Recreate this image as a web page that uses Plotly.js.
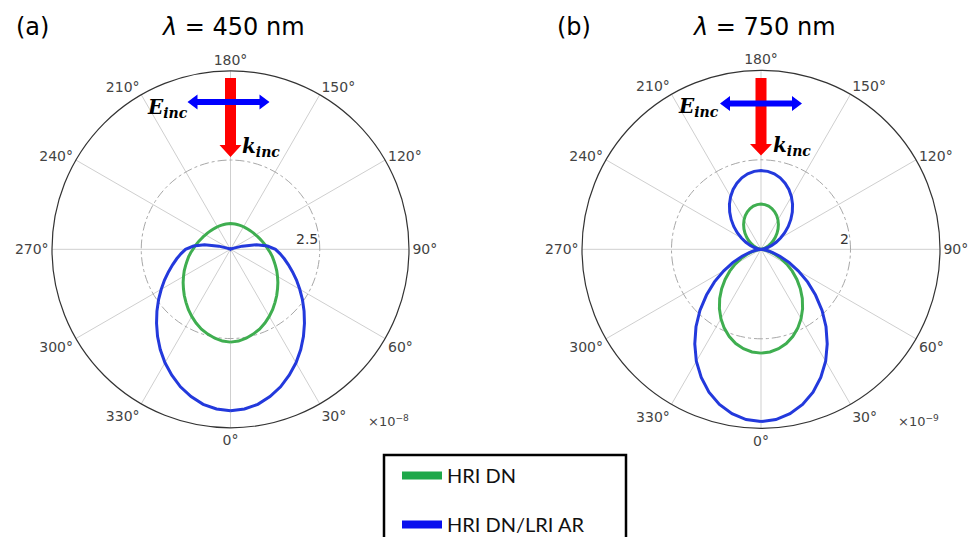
<!DOCTYPE html>
<html><head><meta charset="utf-8">
<script src="https://cdn.plot.ly/plotly-3.0.1.min.js"></script>
<style>html,body{margin:0;padding:0;background:#fff}#chart{width:972px;height:537px}</style>
</head><body><div id="chart"></div>
<script>
// Angles (deg) for one half of each symmetric pattern: 0 = bottom (forward), 180 = top
const thetaHalf = [0,5,10,15,20,25,30,35,40,45,50,55,60,65,70,75,80,85,90,95,100,105,110,115,120,125,130,135,140,145,150,155,160,165,170,175,180];

// (a) lambda = 450 nm, units x1e-8
const greenA = [2.60,2.58,2.53,2.46,2.38,2.28,2.17,2.06,1.94,1.83,1.72,1.62,1.52,1.43,1.34,1.26,1.19,1.12,1.05,1.00,0.95,0.91,0.87,0.84,0.81,0.79,0.77,0.755,0.745,0.735,0.73,0.725,0.72,0.72,0.72,0.72,0.72];
const blueA  = [4.52,4.49,4.41,4.27,4.10,3.89,3.67,3.43,3.18,2.93,2.69,2.46,2.24,2.04,1.85,1.68,1.53,1.39,1.26,1.04,0.74,0.34,0.10,0.04,0.02,0.01,0.01,0.01,0,0,0,0,0,0,0,0,0];

// (b) lambda = 750 nm, units x1e-9
const greenB = [2.32,2.304,2.257,2.180,2.074,1.944,1.791,1.620,1.436,1.243,1.047,0.853,0.666,0.493,0.336,0.204,0.099,0.028,0,0.008,0.030,0.068,0.118,0.180,0.253,0.332,0.417,0.505,0.593,0.678,0.758,0.830,0.892,0.942,0.980,1.002,1.01];
const blueB  = [3.85,3.82,3.73,3.59,3.40,3.16,2.89,2.58,2.26,1.93,1.59,1.27,0.96,0.69,0.45,0.26,0.12,0.03,0,0.021,0.075,0.155,0.255,0.374,0.505,0.647,0.795,0.943,1.089,1.229,1.359,1.475,1.574,1.654,1.712,1.748,1.76];

const seriesNames = ['HRI DN', 'HRI DN/LRI AR'];
const angTicks = [0,30,60,90,120,150,180,210,240,270,300,330];
const angLabels = angTicks.map(t => t + '°');
const radialTickA = 2.5, radialTickB = 2;

const GREEN = '#3fae50', BLUE = '#2339dc';
const LEG_GREEN = '#1ea84a', LEG_BLUE = '#0a10ee';

// mirror symmetric half pattern onto the other side (pattern is symmetric about the 0-180 axis)
const fullTheta = thetaHalf.concat(thetaHalf.slice(0, -1).reverse().map(t => 360 - t));
const fullR = half => half.concat(half.slice(0, -1).reverse());

const W = 972, H = 537;
const px = x => x / W, py = y => 1 - y / H;

const traces = [
  {type:'scatterpolar', subplot:'polar', theta: fullTheta, r: fullR(greenA), mode:'lines', line:{color:GREEN, width:3}, showlegend:false, hoverinfo:'skip'},
  {type:'scatterpolar', subplot:'polar', theta: fullTheta, r: fullR(blueA), mode:'lines', line:{color:BLUE, width:3}, showlegend:false, hoverinfo:'skip'},
  {type:'scatterpolar', subplot:'polar2', theta: fullTheta, r: fullR(greenB), mode:'lines', line:{color:GREEN, width:3}, showlegend:false, hoverinfo:'skip'},
  {type:'scatterpolar', subplot:'polar2', theta: fullTheta, r: fullR(blueB), mode:'lines', line:{color:BLUE, width:3}, showlegend:false, hoverinfo:'skip'},
  // legend entries (thick sample lines)
  {type:'scatterpolar', subplot:'polar', theta:[0], r:[0], mode:'lines', name: seriesNames[0], legendgroup:'g1', line:{color:LEG_GREEN, width:8}, hoverinfo:'skip'},
  {type:'scatterpolar', subplot:'polar', theta:[0], r:[0], mode:'lines', name: seriesNames[1], legendgroup:'g2', line:{color:LEG_BLUE, width:8}, hoverinfo:'skip'}
];

function polarCfg(domX, domY, rmax, rtick) {
  return {
    domain: {x: domX, y: domY},
    bgcolor: '#fff',
    angularaxis: {
      rotation: -90, direction: 'counterclockwise',
      tickmode: 'array', tickvals: angTicks, ticktext: angLabels,
      ticks: '', showline: true, linecolor: '#333', linewidth: 1.2,
      gridcolor: '#cfcfcf', gridwidth: 1,
      tickfont: {family: 'DejaVu Sans', size: 14, color: '#444'}
    },
    radialaxis: {
      range: [0, rmax], tickmode: 'array', tickvals: [rtick],
      showticklabels: false, showline: false, ticks: '', angle: 0,
      gridcolor: '#a8a8a8', griddash: 'dashdot', gridwidth: 1
    }
  };
}

function redArrow(cx, top, base, tip) {
  return `M${px(cx-5.5)},${py(top)} L${px(cx+5.5)},${py(top)} L${px(cx+5.5)},${py(base)} L${px(cx+11)},${py(base)} L${px(cx)},${py(tip)} L${px(cx-11)},${py(base)} L${px(cx-5.5)},${py(base)} Z`;
}
function blueArrow(xl, xr, cy) {
  const hl = 10, hh = 7.5, sh = 3;
  return `M${px(xl)},${py(cy)} L${px(xl+hl)},${py(cy-hh)} L${px(xl+hl)},${py(cy-sh)} L${px(xr-hl)},${py(cy-sh)} L${px(xr-hl)},${py(cy-hh)} L${px(xr)},${py(cy)} L${px(xr-hl)},${py(cy+hh)} L${px(xr-hl)},${py(cy+sh)} L${px(xl+hl)},${py(cy+sh)} L${px(xl+hl)},${py(cy+hh)} Z`;
}

const shapes = [
  {type:'path', xref:'paper', yref:'paper', path: redArrow(230.5, 78, 145, 157), fillcolor:'#ff0000', line:{width:0}, layer:'above'},
  {type:'path', xref:'paper', yref:'paper', path: blueArrow(187.5, 269.5, 102), fillcolor:'#0000ff', line:{width:0}, layer:'above'},
  {type:'path', xref:'paper', yref:'paper', path: redArrow(761, 78, 144, 155.5), fillcolor:'#ff0000', line:{width:0}, layer:'above'},
  {type:'path', xref:'paper', yref:'paper', path: blueArrow(720, 802, 103.5), fillcolor:'#0000ff', line:{width:0}, layer:'above'},
  // legend frame
  {type:'rect', xref:'paper', yref:'paper', x0: px(384), x1: px(626), y0: py(455), y1: py(560), line:{color:'#000', width:2.5}, fillcolor:'rgba(0,0,0,0)', layer:'above'}
];

const titleFont = {family:'DejaVu Sans', size:24, color:'#000'};
const vecFont = {family:'DejaVu Serif', size:20, color:'#000'};
const tickFont = {family:'DejaVu Sans', size:14, color:'#333'};
const ann = (x, y, text, font, xanchor) => ({xref:'paper', yref:'paper', x: px(x), y: py(y), text, font, showarrow:false, xanchor: xanchor || 'center', yanchor:'middle'});

const annotations = [
  ann(32.5, 27.5, '(a)', titleFont),
  ann(232.5, 27.5, '<i>λ</i> = 450 nm', titleFont),
  ann(574, 27.5, '(b)', titleFont),
  ann(763.5, 27.5, '<i>λ</i> = 750 nm', titleFont),
  ann(145, 108, '<b><i>E</i></b><sub><b><i>inc</i></b></sub>', vecFont, 'left'),
  ann(240, 147, '<b><i>k</i></b><sub><b><i>inc</i></b></sub>', vecFont, 'left'),
  ann(676, 107, '<b><i>E</i></b><sub><b><i>inc</i></b></sub>', vecFont, 'left'),
  ann(771, 146, '<b><i>k</i></b><sub><b><i>inc</i></b></sub>', vecFont, 'left'),
  ann(320, 239, String(radialTickA), tickFont, 'right'),
  ann(851, 239, String(radialTickB), tickFont, 'right'),
  ann(388, 421, '×10<sup>−8</sup>', {family:'DejaVu Sans', size:13, color:'#444'}),
  ann(918, 421, '×10<sup>−9</sup>', {family:'DejaVu Sans', size:13, color:'#444'})
];

const layout = {
  width: W, height: H,
  margin: {l:0, r:0, t:0, b:0, autoexpand: false},
  paper_bgcolor: '#fff',
  showlegend: true,
  polar: polarCfg([52/W, 409/W], [py(427.8), py(70.8)], 5, radialTickA),
  polar2: polarCfg([582/W, 940/W], [py(428.3), py(70.3)], 4, radialTickB),
  legend: {
    x: px(397), y: py(456), xanchor:'left', yanchor:'top',
    borderwidth:0, bgcolor:'rgba(0,0,0,0)',
    font: {family:'Lato', size:20, color:'#111'},
    tracegroupgap: 20, itemwidth: 40
  },
  shapes, annotations
};

Plotly.newPlot('chart', traces, layout, {staticPlot: true, displayModeBar: false});
</script>
</body></html>
